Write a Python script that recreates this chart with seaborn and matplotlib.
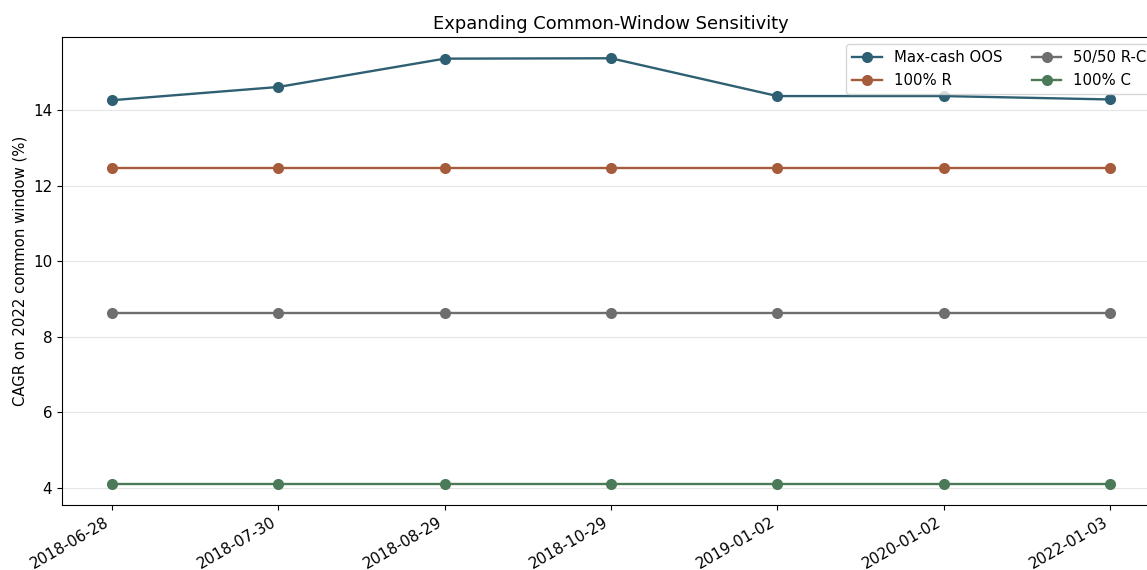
import pandas as pd
import matplotlib
matplotlib.use("Agg")
import matplotlib.pyplot as plt
import seaborn as sns

dates = ["2018-06-28", "2018-07-30", "2018-08-29", "2018-10-29",
         "2019-01-02", "2020-01-02", "2022-01-03"]
max_cash = [14.26, 14.61, 15.36, 15.37, 14.37, 14.37, 14.28]
r_100 = [12.47, 12.47, 12.47, 12.47, 12.47, 12.47, 12.47]
rc_5050 = [8.64, 8.64, 8.64, 8.64, 8.64, 8.64, 8.64]
c_100 = [4.11, 4.11, 4.11, 4.11, 4.11, 4.11, 4.11]

series_names = ["Max-cash OOS", "100% R", "50/50 R-C", "100% C"]
colors = ["#2e5f72", "#a65b3a", "#6e6e6e", "#4a7a58"]

frames = []
for name, vals in zip(series_names, [max_cash, r_100, rc_5050, c_100]):
    frames.append(pd.DataFrame({"date": dates, "cagr": vals, "series": name}))
df = pd.concat(frames, ignore_index=True)

fig = plt.figure(figsize=(11.47, 5.70), dpi=100)
ax = fig.add_axes([62/1147, 65/570, 1098/1147, 468/570])

sns.lineplot(
    data=df,
    x="date",
    y="cagr",
    hue="series",
    hue_order=series_names,
    palette=colors,
    marker="o",
    markersize=8,
    markeredgewidth=0,
    linewidth=1.7,
    ax=ax
)

ax.set_xlim(-0.3, 6.3)
ax.grid(axis="y", color="#e6e6e6", linewidth=0.8)
ax.set_axisbelow(True)
ax.set_title("Expanding Common-Window Sensitivity", fontsize=12.9)
ax.set_xlabel("")
ax.set_ylabel("CAGR on 2022 common window (%)", fontsize=10.7)
ax.tick_params(labelsize=10.9)
plt.setp(ax.get_xticklabels(), rotation=30, ha="right")

ax.legend(
    ncol=2,
    loc="upper right",
    fontsize=10.7,
    title=None
)

fig.savefig("out.png", dpi=100)
